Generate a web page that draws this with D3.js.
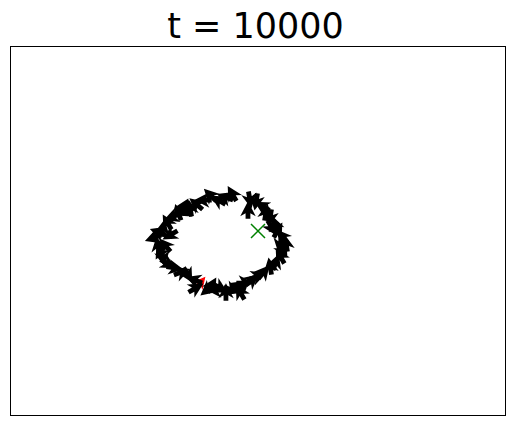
<!DOCTYPE html>
<html>
<head>
<meta charset="utf-8">
<script src="https://cdn.jsdelivr.net/npm/d3@7"></script>
<style>
  html, body { margin: 0; padding: 0; background: #fff; }
  svg { display: block; }
</style>
</head>
<body>
<div id="chart"></div>
<script>
// ---- data (agent positions in data units, heading in degrees, screen convention) ----
const titleText = "t = 10000";
const agentX = [-2.10,-2.67,-3.23,-3.88,-4.44,-5.01,-5.49,-5.98,-6.46,-6.95,-7.35,-7.68,-8.08,-8.48,-8.08,-7.92,-7.68,-7.27,-6.71,-6.14,-5.66,-5.17,-5.01,-4.12,-3.72,-3.07,-2.59,-2.10,-1.62,-1.05,-0.48,0.00,0.48,0.97,1.45,1.78,2.02,2.26,1.94,1.62,1.37,0.97,0.65,0.32,-0.16,-0.65,-0.81,-7.11,-7.52,-5.90,-3.47,-1.45,1.78,1.13];
const agentY = [3.05,2.76,2.52,2.93,2.52,2.20,1.87,2.03,1.54,1.14,0.73,0.24,-0.08,-0.57,-1.14,-1.71,-2.20,-2.68,-3.01,-3.33,-3.58,-3.98,-4.63,-4.80,-4.39,-4.63,-4.96,-4.80,-4.47,-4.23,-3.98,-3.66,-3.33,-2.85,-2.52,-2.03,-1.54,-0.98,-0.41,0.08,0.57,1.06,1.54,2.03,2.36,2.52,1.71,-0.33,-1.14,1.54,-4.80,-4.96,-1.14,0.24];
const agentHeading = [-120,200,-150,-135,180,-140,-100,-60,-110,160,-120,-80,200,160,-100,120,80,30,10,-20,60,200,-30,140,-60,30,-90,20,-160,0,-40,-20,-50,-100,-70,-120,60,-100,-130,-60,-110,100,-80,-150,100,80,-90,150,-130,30,180,-120,100,60];
const arrowLength = 1.4;           // data units
const leaderX = [-4.61], leaderY = [-4.15], leaderHeading = [-50];
const targetX = [0.0], targetY = [0.0];
const xDomain = [-20, 20], yDomain = [-15, 15];

// ---- layout ----
const W = 515, H = 426;
const plot = { left: 10.5, top: 46.5, right: 505.5, bottom: 415.5 };

const svg = d3.select("#chart").append("svg").attr("width", W).attr("height", H);

const x = d3.scaleLinear().domain(xDomain).range([plot.left, plot.right]);
const y = d3.scaleLinear().domain(yDomain).range([plot.bottom, plot.top]);

// title
svg.append("text")
  .attr("x", 255.5)
  .attr("y", 37.5)
  .attr("text-anchor", "middle")
  .style("font-family", "DejaVu Sans")
  .style("font-size", "35px")
  .style("fill", "#000")
  .text(titleText);

// clip
svg.append("clipPath").attr("id", "clip")
  .append("rect").attr("x", plot.left).attr("y", plot.top)
  .attr("width", plot.right - plot.left).attr("height", plot.bottom - plot.top);

const g = svg.append("g").attr("clip-path", "url(#clip)");

// arrow shape (quiver-like), length in px along +x, pivot middle
function arrowPath(L, k) {
  const w = 4.8 * k, hw = 15.5 * k, hl = 15 * k, hal = 12 * k;
  const pts = [
    [0, -w / 2], [L - hal, -w / 2], [L - hl, -hw / 2], [L, 0],
    [L - hl, hw / 2], [L - hal, w / 2], [0, w / 2]
  ].map(p => [p[0] - L / 2, p[1]]);
  return "M" + pts.map(p => p.join(",")).join("L") + "Z";
}
const pxPerUnit = Math.abs(x(1) - x(0));

function drawArrows(xs, ys, hs, color, k) {
  g.append("g").selectAll("path").data(d3.range(xs.length)).join("path")
    .attr("d", arrowPath(arrowLength * pxPerUnit * k, k))
    .attr("transform", i => `translate(${x(xs[i])},${y(ys[i])}) rotate(${hs[i]})`)
    .attr("fill", color)
    .attr("stroke", "none");
}

drawArrows(leaderX, leaderY, leaderHeading, "#ff0000", 0.8);
drawArrows(agentX, agentY, agentHeading, "#000000", 1);

// target marker 'x'
const m = 7;
const tg = g.append("g");
targetX.forEach((tx, i) => {
  const cx = x(tx), cy = y(targetY[i]);
  tg.append("path")
    .attr("d", `M${cx - m},${cy - m}L${cx + m},${cy + m}M${cx - m},${cy + m}L${cx + m},${cy - m}`)
    .attr("stroke", "#008000").attr("stroke-width", 1.5).attr("fill", "none");
});

// frame
svg.append("rect")
  .attr("x", plot.left).attr("y", plot.top)
  .attr("width", plot.right - plot.left).attr("height", plot.bottom - plot.top)
  .attr("fill", "none").attr("stroke", "#000").attr("stroke-width", 1);
</script>
</body>
</html>
